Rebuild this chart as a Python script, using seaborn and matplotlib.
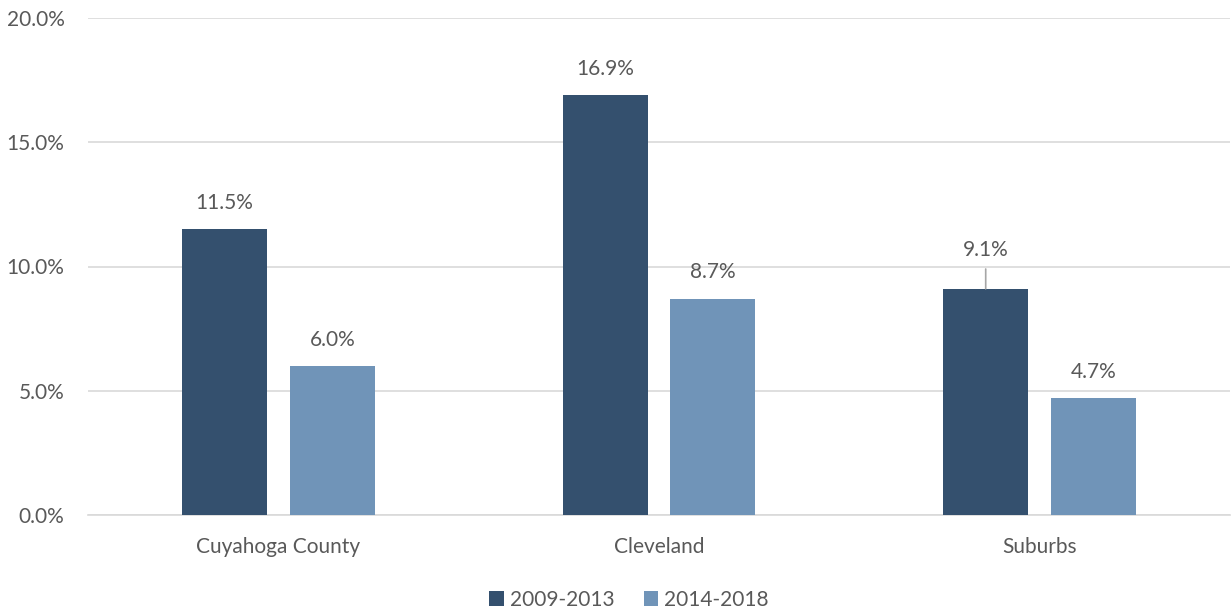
import matplotlib
matplotlib.use("Agg")
import matplotlib.pyplot as plt
import seaborn as sns
import pandas as pd
from matplotlib.ticker import FuncFormatter, MultipleLocator

categories = ["Cuyahoga County", "Cleveland", "Suburbs"]
series = ["2009-2013", "2014-2018"]
values_2009_2013 = [11.5, 16.9, 9.1]
values_2014_2018 = [6.0, 8.7, 4.7]
colors = ["#34506E", "#7094B8"]

rows = []
for c, v in zip(categories, values_2009_2013):
    rows.append({"cat": c, "period": series[0], "val": v})
for c, v in zip(categories, values_2014_2018):
    rows.append({"cat": c, "period": series[1], "val": v})
df = pd.DataFrame(rows)

sns.set_theme(style="white")
plt.rcParams["font.family"] = ["Lato", "DejaVu Sans"]
text_color = "#595959"
fs = 15

fig = plt.figure(figsize=(12.31, 6.14), dpi=100)
ax = fig.add_axes([88/1231, (614-515)/614, (1230-88)/1231, (515-18)/614])

sns.barplot(data=df, x="cat", y="val", hue="period", palette=colors,
            width=0.567, gap=0.213, ax=ax, errorbar=None, saturation=1,
            linewidth=0, zorder=3)

ax.set_ylim(0, 20)
ax.set_xlim(-0.5, 2.5)
ax.yaxis.set_major_locator(MultipleLocator(5))
ax.yaxis.set_major_formatter(FuncFormatter(lambda v, p: f"{v:.1f}%"))
ax.grid(axis="y", color="#D9D9D9", linewidth=1.2, zorder=0)
ax.grid(axis="x", visible=False)
for s in ["left", "right", "top"]:
    ax.spines[s].set_visible(False)
ax.spines["bottom"].set_color("#D9D9D9")
ax.spines["bottom"].set_linewidth(1.2)
ax.tick_params(axis="both", length=0, labelsize=fs, colors=text_color)
ax.tick_params(axis="y", pad=17)
ax.tick_params(axis="x", pad=16)
ax.set_xlabel("")
ax.set_ylabel("")

# data labels
for cont in ax.containers:
    for bar in cont:
        h = bar.get_height()
        x = bar.get_x() + bar.get_width() / 2
        label = f"{h:.1f}%"
        if abs(h - 9.1) < 1e-6:
            ax.annotate(label, xy=(x, h), xytext=(0, 28), textcoords="offset points",
                        ha="center", va="center", fontsize=fs, color=text_color)
            ax.annotate("", xy=(x, h), xytext=(x, h + 0.8),
                        arrowprops=dict(arrowstyle="-", color="#A6A6A6", lw=1.2,
                                        shrinkA=0, shrinkB=0))
        else:
            ax.annotate(label, xy=(x, h), xytext=(0, 19), textcoords="offset points",
                        ha="center", va="center", fontsize=fs, color=text_color)

leg = ax.legend(loc="upper center", bbox_to_anchor=((629 - 88) / 1142, -0.113), ncol=2,
                frameon=False, fontsize=fs, handlelength=0.7, handleheight=0.7,
                handletextpad=0.3, columnspacing=1.4)
for t in leg.get_texts():
    t.set_color(text_color)

fig.savefig("out.png", dpi=100)
